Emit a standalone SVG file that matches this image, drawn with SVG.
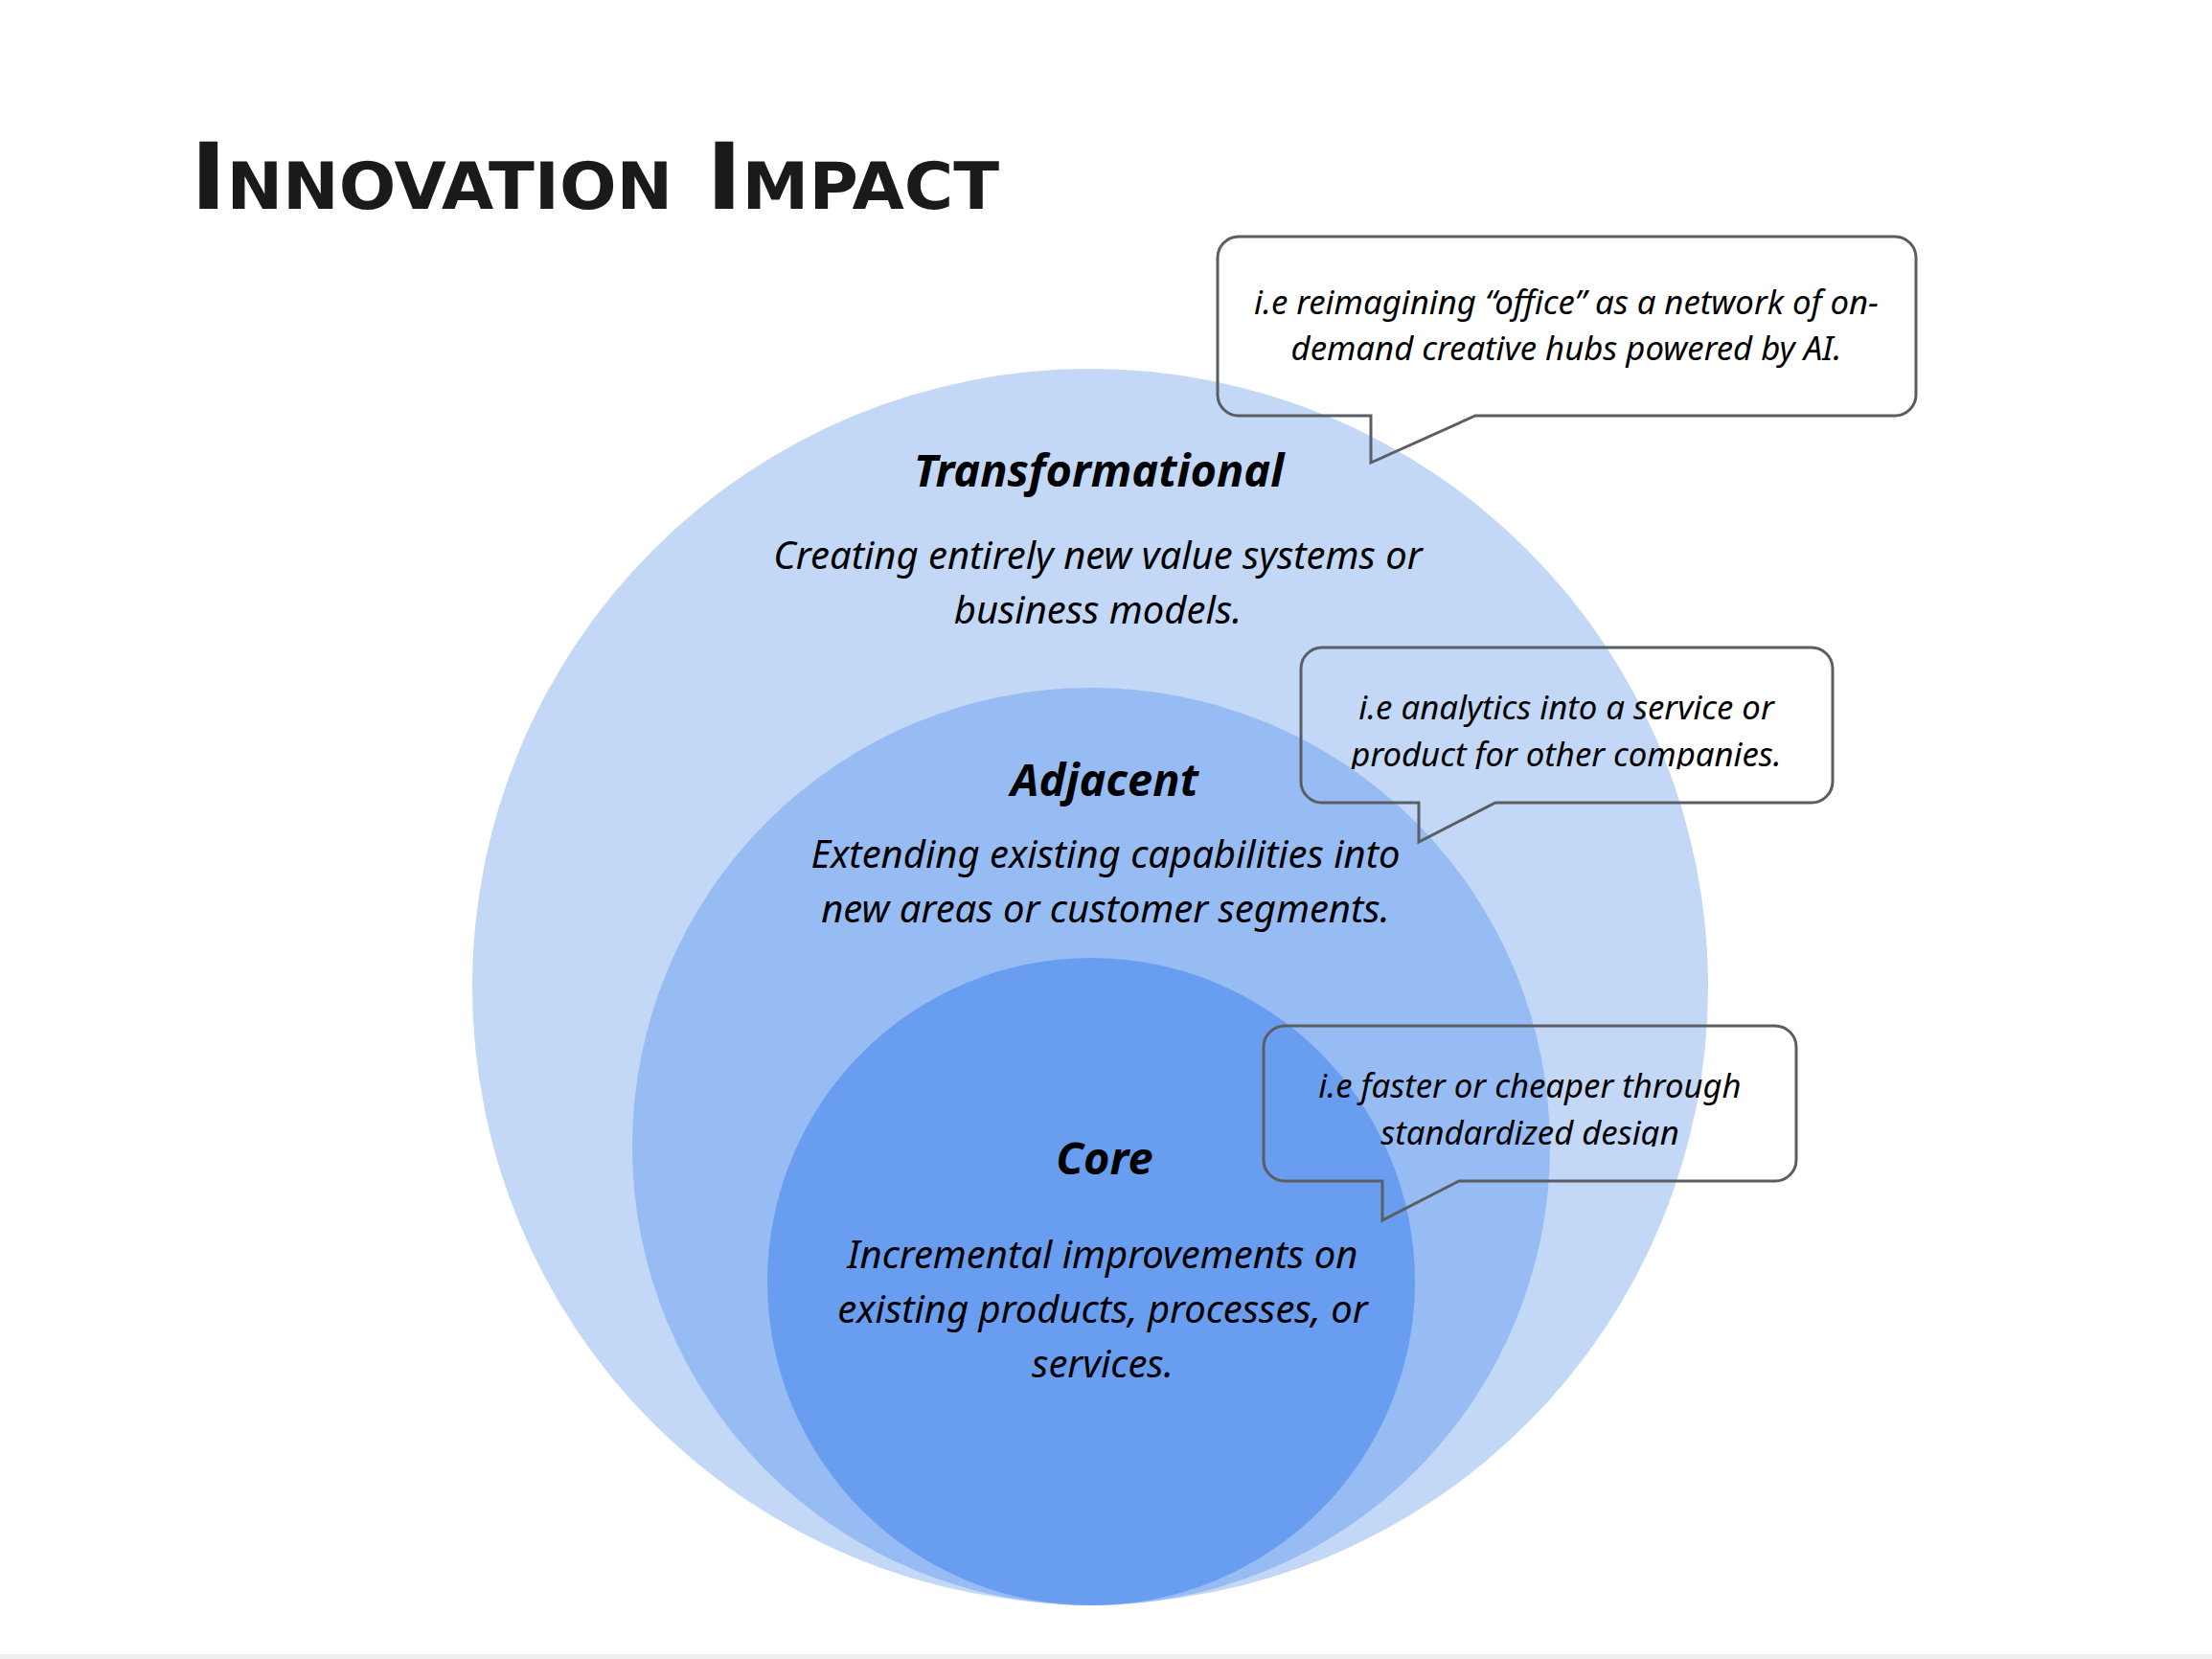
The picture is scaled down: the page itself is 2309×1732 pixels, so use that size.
<svg xmlns="http://www.w3.org/2000/svg" width="2309" height="1732" viewBox="0 0 2309 1732">
  <style>
    .title { font-family: "DejaVu Sans", "Liberation Sans", sans-serif; font-weight: bold; font-variant: small-caps; fill: #1a1a1a; }
    .head { font-family: "Noto Sans", "Open Sans", sans-serif; font-weight: bold; font-style: italic; font-size: 47px; fill: #000; text-anchor: middle; }
    .body { font-family: "Noto Sans", "Open Sans", sans-serif; font-style: italic; font-size: 40px; fill: #000; text-anchor: middle; }
    .note { font-family: "Noto Sans", "Open Sans", sans-serif; font-style: italic; font-size: 34.7px; fill: #000; text-anchor: middle; }
    .bubble { fill: none; stroke: #5a5e63; stroke-width: 3; stroke-linejoin: miter; }
  </style>
  <defs>
    <clipPath id="clip2"><rect x="1360" y="678" width="552" height="125"/></clipPath>
    <clipPath id="clip3"><rect x="1321" y="1073" width="552" height="124"/></clipPath>
  </defs>
  <rect x="0" y="0" width="2309" height="1732" fill="#ffffff"/>
  <rect x="0" y="1727" width="2309" height="5" fill="#efefef"/>

  <text class="title" x="199" y="218" font-size="96" textLength="844" lengthAdjust="spacingAndGlyphs">Innovation Impact</text>

  <g id="transformational">
    <circle cx="1138" cy="1030" r="645" fill="#c2d8f6"/>
  </g>
  <g id="adjacent">
    <circle cx="1139" cy="1197" r="479" fill="#97bbf3"/>
  </g>
  <g id="core">
    <circle cx="1139" cy="1338" r="338" fill="#689df0"/>
  </g>

  <g id="transformational-text">
    <text class="head" x="1147" y="508">Transformational</text>
    <text class="body" x="1146" y="594">Creating entirely new value systems or</text>
    <text class="body" x="1146" y="651">business models.</text>
  </g>
  <g id="adjacent-text">
    <text class="head" x="1153" y="831">Adjacent</text>
    <text class="body" x="1154" y="906">Extending existing capabilities into</text>
    <text class="body" x="1154" y="963">new areas or customer segments.</text>
  </g>
  <g id="core-text">
    <text class="head" x="1153" y="1226">Core</text>
    <text class="body" x="1151" y="1324">Incremental improvements on</text>
    <text class="body" x="1151" y="1381">existing products, processes, or</text>
    <text class="body" x="1151" y="1438">services.</text>
  </g>

  <g id="callout-transformational">
    <path class="bubble" d="M 1293 247 H 1978 A 22 22 0 0 1 2000 269 V 412 A 22 22 0 0 1 1978 434 H 1540 L 1431 483 V 434 H 1293 A 22 22 0 0 1 1271 412 V 269 A 22 22 0 0 1 1293 247 Z"/>
    <text class="note" x="1635" y="328">i.e reimagining “office” as a network of on-</text>
    <text class="note" x="1635" y="376">demand creative hubs powered by AI.</text>
  </g>
  <g id="callout-adjacent">
    <path class="bubble" d="M 1380 676 H 1891 A 22 22 0 0 1 1913 698 V 816 A 22 22 0 0 1 1891 838 H 1561 L 1481 879 V 838 H 1380 A 22 22 0 0 1 1358 816 V 698 A 22 22 0 0 1 1380 676 Z"/>
    <g clip-path="url(#clip2)">
      <text class="note" x="1635" y="751">i.e analytics into a service or</text>
      <text class="note" x="1635" y="800">product for other companies.</text>
    </g>
  </g>
  <g id="callout-core">
    <path class="bubble" d="M 1341 1071 H 1853 A 22 22 0 0 1 1875 1093 V 1211 A 22 22 0 0 1 1853 1233 H 1523 L 1443 1274 V 1233 H 1341 A 22 22 0 0 1 1319 1211 V 1093 A 22 22 0 0 1 1341 1071 Z"/>
    <g clip-path="url(#clip3)">
      <text class="note" x="1597" y="1146">i.e faster or cheaper through</text>
      <text class="note" x="1597" y="1195">standardized design</text>
    </g>
  </g>
</svg>
